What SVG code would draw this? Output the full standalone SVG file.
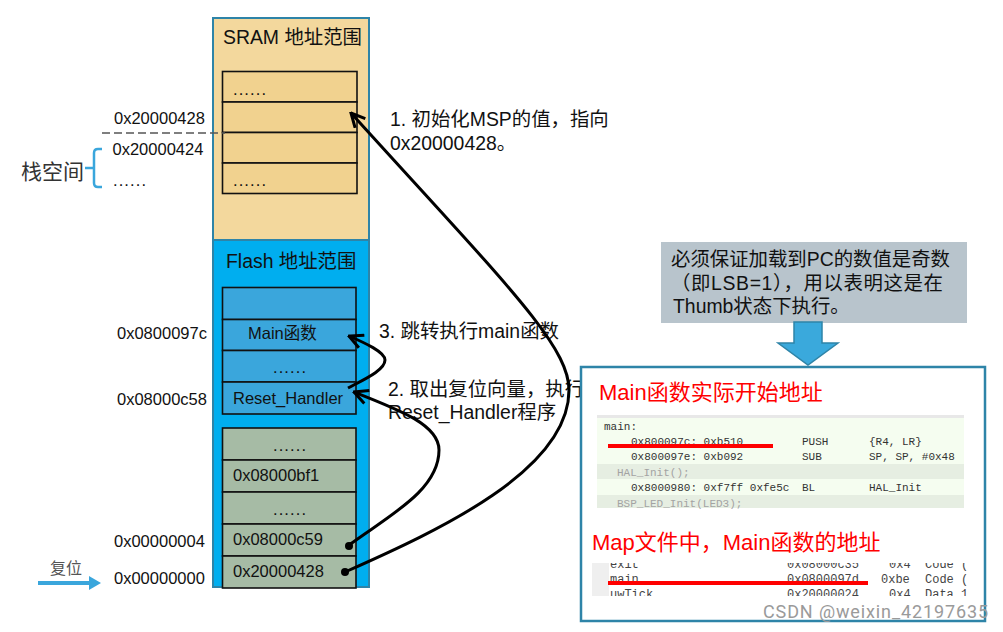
<svg xmlns="http://www.w3.org/2000/svg" width="1003" height="632" viewBox="0 0 1003 632">
<style>
text{font-family:"Liberation Sans","Noto Sans CJK SC",sans-serif;fill:#111}
.a{font-size:16.5px}
.t{font-size:19.4px}
.d{font-size:16.5px;letter-spacing:1.1px}
.r{font-size:22px;fill:#ff0000}
.m{font-family:"Liberation Mono","DejaVu Sans Mono",monospace;font-size:11px;fill:#333}
.g{fill:#a3a3a3}
.n{font-family:"Liberation Mono","DejaVu Sans Mono",monospace;font-size:12px;fill:#444}
.cell{stroke:#111;stroke-width:1.6}
.s{fill:#f1d28f}.b{fill:#3aa6dc}.v{fill:#a6bba5}
.c{fill:none;stroke:#000;stroke-width:3}
</style>
<defs>
<marker id="ah" viewBox="0 0 12 12" refX="11" refY="6" markerWidth="5.500" markerHeight="5.500" orient="auto" markerUnits="strokeWidth"><path d="M1 1L11 6L1 11" fill="none" stroke="#000" stroke-width="2.2"/></marker>
<clipPath id="mapclip"><rect x="592" y="563" width="380" height="33"/></clipPath>
</defs>
<rect width="1003" height="632" fill="#fff"/>

<g id="sram">
<rect x="213" y="18" width="156" height="222" fill="#f3d89d" stroke="#2e84a8" stroke-width="2"/>
<text class="t" x="223" y="44">SRAM 地址范围</text>
<rect class="cell s" x="222.500" y="71.500" width="134.500" height="30.500"/>
<rect class="cell s" x="222.500" y="102" width="134.500" height="30.500"/>
<rect class="cell s" x="222.500" y="132.500" width="134.500" height="30.500"/>
<rect class="cell s" x="222.500" y="163" width="134.500" height="30.500"/>
<text class="d" x="233" y="95">......</text>
<text class="d" x="233" y="186">......</text>
</g>

<g id="flash">
<rect x="213" y="240" width="156" height="347" fill="#00aeef" stroke="#2e84a8" stroke-width="2"/>
<text class="t" x="226" y="268">Flash 地址范围</text>
<rect class="cell b" x="222.500" y="287.500" width="133.500" height="32"/>
<rect class="cell b" x="222.500" y="319.500" width="133.500" height="31"/>
<rect class="cell b" x="222.500" y="350.500" width="133.500" height="31.500"/>
<rect class="cell b" x="222.500" y="382" width="133.500" height="32"/>
<text class="a" x="248" y="339">Main函数</text>
<text class="d" x="273" y="373">......</text>
<text class="a" x="233" y="404">Reset_Handler</text>
</g>

<g id="vectors">
<rect class="cell v" x="222.500" y="428" width="133.500" height="32"/>
<rect class="cell v" x="222.500" y="460" width="133.500" height="32"/>
<rect class="cell v" x="222.500" y="492" width="133.500" height="32"/>
<rect class="cell v" x="222.500" y="524" width="133.500" height="32"/>
<rect class="cell v" x="222.500" y="556" width="133.500" height="32"/>
<text class="d" x="273" y="451">......</text>
<text class="a" x="233" y="481">0x08000bf1</text>
<text class="d" x="273" y="515">......</text>
<text class="a" x="233" y="545">0x08000c59</text>
<text class="a" x="233" y="577">0x20000428</text>
</g>

<g id="labels">
<text class="a" x="114" y="124">0x20000428</text>
<text class="a" x="112.500" y="155">0x20000424</text>
<text class="d" x="113" y="186">......</text>
<text class="a" x="117" y="339">0x0800097c</text>
<text class="a" x="117" y="405">0x08000c58</text>
<text class="a" x="114" y="547">0x00000004</text>
<text class="a" x="114" y="584">0x00000000</text>
<text x="50" y="574" font-size="16" style="fill:#555">复位</text>
<text x="21" y="179" font-size="21" style="fill:#333">栈空间</text>
</g>

<g id="notes">
<text class="t" x="390" y="126">1. 初始化MSP的值，指向</text>
<text class="t" x="390" y="150">0x20000428。</text>
<text class="t" x="379" y="338">3. 跳转执行main函数</text>
<text class="t" x="388" y="396">2. 取出复位向量，执行</text>
<text class="t" x="388" y="419">Reset_Handler程序</text>
</g>

<g id="connectors">
<path d="M102 133H225" fill="none" stroke="#555" stroke-width="1.5" stroke-dasharray="8 4"/>
<path d="M102 149H98Q94 149 94 153V183Q94 187 98 187H102M94 168H85" fill="none" stroke="#3aa6dc" stroke-width="2.500"/>
<path d="M38 583H90" stroke="#3aa6dc" stroke-width="4" fill="none"/>
<path d="M89 576L101 583L89 590Z" fill="#3aa6dc"/>
<path class="c" marker-end="url(#ah)" d="M345 572C440 530 569 470 569 390C569 345 505 283 351 113"/>
<path class="c" marker-end="url(#ah)" d="M349 545C390 515 439 490 439 450C439 425 400 410 354 392"/>
<path class="c" marker-end="url(#ah)" d="M348 388C365 379 385 370 385 360C385 352 365 343 349 336"/>
<circle cx="345" cy="572" r="4"/>
<circle cx="349" cy="546" r="4"/>
</g>

<g id="note-box">
<rect x="661" y="242" width="306" height="81" fill="#b8c4cc"/>
<text class="t" x="671" y="266">必须保证加载到PC的数值是奇数</text>
<text class="t" x="671" y="290" textLength="272">（即LSB=1），用以表明这是在</text>
<text class="t" x="673" y="313">Thumb状态下执行。</text>
</g>
<path id="down-arrow" d="M794 322H822V343H838L808 365L778 343H794Z" fill="#3aa9dc" stroke="#2e84a8" stroke-width="1.500"/>

<g id="panel">
<rect x="581" y="367" width="404" height="254" fill="#fff" stroke="#2e84a8" stroke-width="2.500"/>
<text class="r" x="599" y="400">Main函数实际开始地址</text>
<rect x="597" y="415" width="367" height="93" fill="#f5fdf0"/>
<rect x="597" y="415" width="367" height="3" fill="#e8e8e8"/>
<rect x="597" y="464" width="367" height="15" fill="#e6eee2"/>
<rect x="597" y="495" width="367" height="13" fill="#e6eee2"/>
<text class="m" x="604" y="430">main:</text>
<text class="m" x="631" y="445">0x800097c: 0xb510</text><text class="m" x="802" y="445">PUSH</text><text class="m" x="869" y="445">{R4, LR}</text>
<text class="m" x="631" y="460">0x800097e: 0xb092</text><text class="m" x="802" y="460">SUB</text><text class="m" x="869" y="460">SP, SP, #0x48</text>
<text class="m g" x="617" y="475.500">HAL_Init();</text>
<text class="m" x="631" y="491">0x8000980: 0xf7ff 0xfe5c</text><text class="m" x="802" y="491">BL</text><text class="m" x="869" y="491">HAL_Init</text>
<text class="m g" x="617" y="506.500">BSP_LED_Init(LED3);</text>
<rect x="608" y="444" width="165" height="4" fill="#ff0000"/>
<text class="r" x="592" y="550">Map文件中，Main函数的地址</text>
<rect x="592" y="563" width="17" height="33" fill="#efefef"/>
<g clip-path="url(#mapclip)">
<text class="n" x="610" y="568">exit</text><text class="n" x="787" y="568">0x08000c35</text><text class="n" x="889" y="568">0x4</text><text class="n" x="925" y="568">Code  (</text>
<text class="n" x="610" y="583">main</text><text class="n" x="787" y="583">0x0800097d</text><text class="n" x="881" y="583">0xbe</text><text class="n" x="925" y="583">Code  (</text>
<text class="n" x="610" y="597.500">uwTick</text><text class="n" x="787" y="597.500">0x20000024</text><text class="n" x="889" y="597.500">0x4</text><text class="n" x="925" y="597.500">Data  1</text>
</g>
<rect x="608" y="581" width="260" height="4" fill="#ff0000"/>
</g>
<text id="watermark" x="763" y="618" font-size="18" textLength="225" style="font-family:Roboto,'Noto Sans',sans-serif;fill:#9a9a9a">CSDN @weixin_42197635</text>
</svg>
